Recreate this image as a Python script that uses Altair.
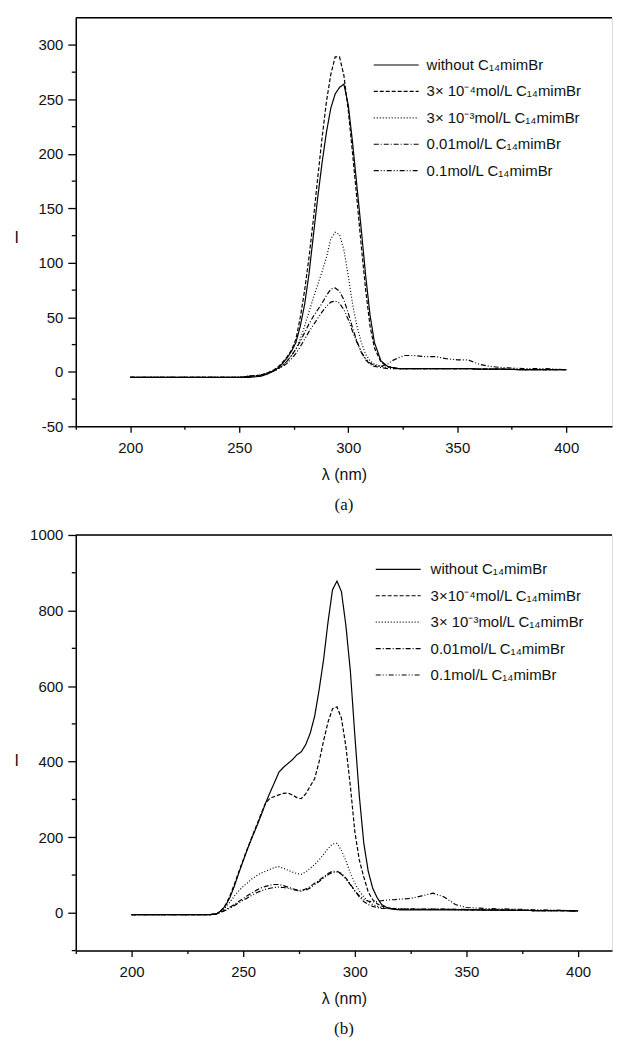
import altair as alt
import pandas as pd

# ---------------- data: panel (a) ----------------
WL_A = [200, 210, 220, 230, 240, 250, 255, 260, 263, 266, 268, 270, 272, 274, 276, 278,
        280, 282, 284, 286, 288, 290, 292, 294, 296, 298, 300, 302, 304, 306, 308, 310,
        312, 315, 318, 320, 323, 326, 330, 335, 340, 345, 350, 355, 360, 365, 370, 380, 390, 400]

A_WITHOUT = [-5, -5, -5, -5, -5, -5, -5, -4, -2, 1, 4, 8, 13, 19, 27, 42,
             62, 90, 125, 160, 192, 220, 242, 255, 261, 264, 245, 210, 170, 130, 88, 52,
             27, 10, 5, 4, 3, 3, 3, 3, 3, 3, 3, 3, 2.5, 2.5, 2.5, 2, 2, 2]
A_3E4 = [-5, -5, -5, -5, -5, -5, -4, -3, -1, 2, 5, 9, 14, 20, 30, 50,
         75, 105, 140, 178, 215, 248, 273, 289, 289, 272, 240, 200, 158, 115, 75, 42,
         22, 9, 5, 4, 3, 3, 3, 3, 3, 3, 3, 3, 2.5, 2.5, 2.5, 2, 2, 2]
A_3E3 = [-5, -5, -5, -5, -5, -5, -4, -3, -1, 1, 3, 6, 10, 15, 21, 30,
         42, 55, 68, 80, 92, 105, 122, 128, 126, 112, 88, 62, 42, 27, 16, 10,
         7, 5, 4, 4, 3, 3, 3, 3, 3, 3, 3, 3, 2.5, 2.5, 2.5, 2, 2, 2]
A_001 = [-5, -5, -5, -5, -5, -5, -4, -3, -1, 1, 3, 6, 10, 15, 21, 28,
         36, 44, 51, 57, 63, 70, 76, 77, 74, 66, 54, 40, 28, 18, 11, 7,
         5, 4, 3, 3, 3, 3, 3, 3, 3, 3, 3, 3, 2.5, 2.5, 2.5, 2, 2, 2]
A_01 = [-5, -5, -5, -5, -5, -5, -4, -3, -1, 1, 3, 5, 8, 12, 17, 23,
        30, 37, 43, 49, 55, 60, 64, 65, 63, 57, 48, 37, 27, 18, 12, 8,
        6, 5, 7, 10, 13, 15, 15, 14, 14, 12, 11, 11, 7, 5, 4, 3, 3, 2]

LABELS_A = ["without C₁₄mimBr", "3× 10⁻⁴mol/L C₁₄mimBr", "3× 10⁻³mol/L C₁₄mimBr",
            "0.01mol/L C₁₄mimBr", "0.1mol/L C₁₄mimBr"]
Y_MAJOR_A = [-50, 0, 50, 100, 150, 200, 250, 300]
Y_MINOR_A = [-25, 25, 75, 125, 175, 225, 275]

# ---------------- data: panel (b) ----------------
WL_B = [200, 210, 220, 230, 235, 238, 240, 242, 244, 246, 248, 250, 252, 254, 256, 258,
        260, 262, 264, 266, 268, 270, 272, 274, 276, 278, 280, 282, 284, 286, 288, 290,
        292, 294, 296, 298, 300, 302, 304, 306, 308, 310, 312, 315, 318, 320, 325, 330,
        335, 340, 345, 350, 360, 370, 380, 390, 400]

B_WITHOUT = [-5, -5, -5, -5, -5, -3, 5, 18, 40, 70, 105, 138, 170, 200, 228, 258,
             290, 318, 345, 372, 385, 395, 405, 418, 426, 445, 475, 520, 590, 670, 770, 855,
             878, 850, 760, 640, 470, 310, 185, 110, 65, 40, 22, 12, 9, 8, 8, 8,
             8, 8, 8, 8, 7, 7, 6, 6, 5]
B_3E4 = [-5, -5, -5, -5, -5, -3, 6, 20, 44, 75, 108, 140, 172, 202, 232, 262,
         290, 303, 308, 312, 316, 317, 312, 305, 302, 315, 335, 355, 400, 455, 505, 540,
         545, 515, 440, 335, 215, 140, 95, 55, 35, 24, 18, 13, 11, 10, 10, 9,
         9, 9, 9, 8, 8, 7, 6, 6, 5]
B_3E3 = [-5, -5, -5, -5, -5, -3, 4, 14, 28, 44, 58, 70, 80, 90, 98, 105,
         110, 115, 120, 122, 118, 113, 108, 104, 102, 108, 118, 128, 140, 155, 170, 182,
         184, 165, 138, 105, 78, 58, 42, 30, 22, 17, 14, 12, 11, 10, 10, 9,
         9, 9, 8, 8, 7, 7, 6, 6, 5]
B_001 = [-5, -5, -5, -5, -5, -3, 2, 8, 15, 22, 30, 38, 46, 53, 60, 66,
         70, 73, 75, 75, 72, 68, 64, 61, 59, 63, 70, 78, 86, 95, 104, 110,
         110, 104, 92, 76, 58, 42, 30, 22, 17, 14, 12, 11, 10, 10, 10, 10,
         10, 10, 9, 9, 8, 7, 6, 6, 5]
B_01 = [-5, -5, -5, -5, -5, -3, 1, 6, 12, 19, 26, 33, 40, 47, 53, 58,
        62, 65, 67, 68, 67, 65, 62, 59, 57, 60, 66, 74, 83, 92, 101, 107,
        108, 102, 90, 74, 58, 45, 36, 31, 29, 30, 32, 34, 35, 36, 38, 45,
        52, 42, 22, 14, 11, 10, 8, 7, 5]

LABELS_B = ["without  C₁₄mimBr", "3×10⁻⁴mol/L C₁₄mimBr", "3× 10⁻³mol/L C₁₄mimBr",
            "0.01mol/L C₁₄mimBr", "0.1mol/L C₁₄mimBr"]
Y_MAJOR_B = [0, 200, 400, 600, 800, 1000]
Y_MINOR_B = [-100, 100, 300, 500, 700, 900]

DASHES = [[1, 0], [4, 2], [1, 2], [5, 2, 1, 2], [5, 2, 1, 2, 1, 2]]

FONT = "Liberation Sans"
INK = "#111111"


def build_df(wl, series, labels):
    rows = []
    for lab, vals in zip(labels, series):
        for w, v in zip(wl, vals):
            rows.append({"wl": w, "I": v, "series": lab})
    return pd.DataFrame(rows)


def panel(wl, series, labels, xdom, ydom, ymajor, yminor, width, height,
          ytitle_y, leg_x, leg_y, leg_off, tag):
    df = build_df(wl, series, labels)
    xvals = [v for v in range(175, 426, 25) if xdom[0] <= v <= xdom[1]]
    x_axis = alt.Axis(
        values=xvals,
        labelExpr="datum.value % 50 === 0 ? datum.label : ''",
        tickSize={"condition": {"test": "datum.value % 50 === 0", "value": 6}, "value": 3},
        title="λ (nm)", grid=False, labelOverlap=False, labelFlush=False,
        domainColor="black", domainWidth=1.5, tickColor="black", tickWidth=1.3,
        labelFont=FONT, labelFontSize=15, labelColor=INK, labelPadding=8,
        titleFont=FONT, titleFontSize=16, titleFontWeight="normal", titleColor=INK,
        titleBaseline="top", titleY=40,
    )
    y_axis = alt.Axis(
        values=ymajor, labelExpr="'' + datum.value", tickSize=8,
        title="I", grid=False, labelOverlap=False, labelFlush=False,
        domainColor="black", domainWidth=1.5, tickColor="black", tickWidth=1.3,
        labelFont=FONT, labelFontSize=15, labelColor=INK, labelPadding=5,
        titleFont=FONT, titleFontSize=16, titleFontWeight="normal", titleColor=INK,
        titleAngle=0, titleAlign="left", titleBaseline="middle", titleX=-62, titleY=ytitle_y,
    )
    xs = alt.Scale(domain=xdom, nice=False, zero=False)
    ys = alt.Scale(domain=ydom, nice=False, zero=False)
    lines = alt.Chart(df).mark_line(strokeWidth=1.2, color="black", clip=True).encode(
        x=alt.X("wl:Q", scale=xs, axis=x_axis),
        y=alt.Y("I:Q", scale=ys, axis=y_axis),
        strokeDash=alt.StrokeDash(
            "series:N",
            scale=alt.Scale(domain=labels, range=DASHES),
            legend=alt.Legend(
                title=None, orient="none", legendX=leg_x, legendY=leg_y, padding=0,
                symbolType="M-4,0H4", symbolSize=127, symbolStrokeWidth=1.2,
                symbolStrokeColor="black", labelFont=FONT, labelFontSize=15,
                labelColor=INK, labelOffset=leg_off, rowPadding=10.5, labelLimit=400,
            ),
        ),
    )
    # minor ticks on the y axis (outward, short)
    minor = alt.Chart(pd.DataFrame({"I": yminor})).mark_rule(
        color="black", strokeWidth=1.3, clip=False
    ).encode(
        y=alt.Y("I:Q", scale=ys, axis=y_axis),
        x=alt.value(-4), x2=alt.value(0),
    )
    top = alt.Chart(pd.DataFrame({"k": [0]})).mark_rule(color="black", strokeWidth=1.5).encode(
        y=alt.datum(ydom[1])
    )
    return alt.layer(lines, minor, top).properties(
        width=width, height=height,
        title=alt.TitleParams(tag, orient="bottom", font="Liberation Serif", fontSize=17,
                              fontWeight="normal", color=INK, anchor="middle", frame="group",
                              offset=15),
    )


pa = panel(WL_A, [A_WITHOUT, A_3E4, A_3E3, A_001, A_01], LABELS_A,
           [175, 421], [-50, 325], Y_MAJOR_A, Y_MINOR_A, 538, 410,
           221, 314, 40, 23, "(a)")
pb = panel(WL_B, [B_WITHOUT, B_3E4, B_3E3, B_001, B_01], LABELS_B,
           [175, 415.2], [-100, 1000], Y_MAJOR_B, Y_MINOR_B, 538, 417,
           226, 316, 27, 25, "(b)")

chart = alt.vconcat(pa, pb, spacing=109, bounds="flush").resolve_scale(
    strokeDash="independent"
).resolve_legend(strokeDash="independent").properties(
    padding={"left": 5, "top": 6, "right": 0, "bottom": 5}
).configure_view(stroke=None).configure(background="white")

chart.save("out.html", embed_options={"renderer": "svg", "actions": False})
